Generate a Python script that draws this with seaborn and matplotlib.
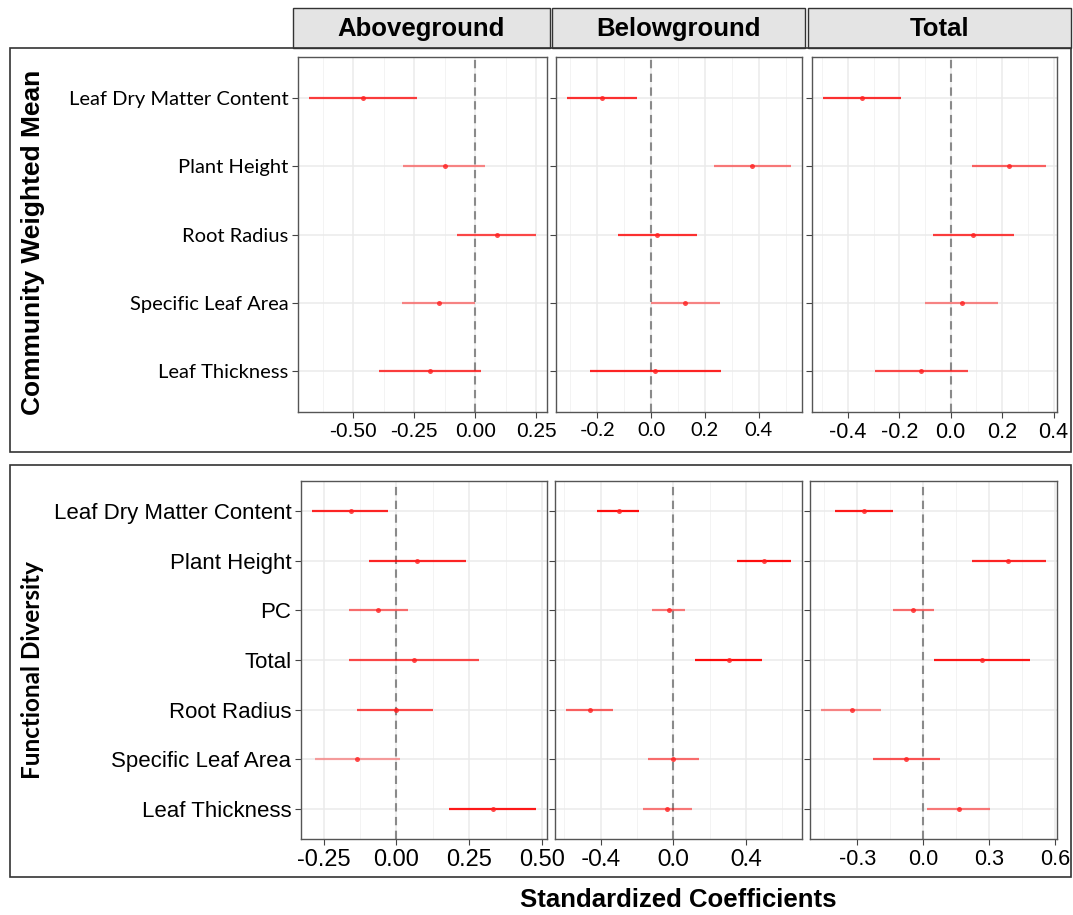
import matplotlib
matplotlib.use("Agg")
import numpy as np
import pandas as pd
import seaborn as sns
import matplotlib.pyplot as plt
from matplotlib.patches import Rectangle
from matplotlib import font_manager

sns.set_theme(style="white")

# ---------------------------------------------------------------- data
responses = ["Aboveground", "Belowground", "Total"]

cwm_traits = ["Leaf Dry Matter Content", "Plant Height", "Root Radius",
              "Specific Leaf Area", "Leaf Thickness"]
fd_traits = ["Leaf Dry Matter Content", "Plant Height", "PC", "Total",
             "Root Radius", "Specific Leaf Area", "Leaf Thickness"]

# Community weighted mean models
cwm_above_est = [-0.46, -0.125, 0.088, -0.149, -0.186]
cwm_above_lo = [-0.68, -0.296, -0.074, -0.300, -0.395]
cwm_above_hi = [-0.24, 0.041, 0.248, -0.001, 0.022]
cwm_above_w = [0.75, 0.45, 0.70, 0.45, 0.75]

cwm_below_est = [-0.183, 0.375, 0.023, 0.126, 0.014]
cwm_below_lo = [-0.312, 0.233, -0.122, 0.000, -0.227]
cwm_below_hi = [-0.051, 0.519, 0.169, 0.256, 0.258]
cwm_below_w = [0.80, 0.50, 0.80, 0.45, 0.85]

cwm_total_est = [-0.345, 0.226, 0.087, 0.044, -0.114]
cwm_total_lo = [-0.496, 0.083, -0.067, -0.098, -0.295]
cwm_total_hi = [-0.192, 0.370, 0.247, 0.184, 0.067]
cwm_total_w = [0.80, 0.60, 0.75, 0.45, 0.70]

# Functional diversity models
fd_above_est = [-0.157, 0.072, -0.063, 0.059, -0.003, -0.136, 0.330]
fd_above_lo = [-0.289, -0.094, -0.163, -0.163, -0.134, -0.281, 0.180]
fd_above_hi = [-0.029, 0.240, 0.038, 0.282, 0.124, 0.011, 0.478]
fd_above_w = [0.85, 0.85, 0.55, 0.70, 0.70, 0.35, 0.90]

fd_below_est = [-0.300, 0.500, -0.024, 0.304, -0.457, 0.000, -0.035]
fd_below_lo = [-0.421, 0.348, -0.115, 0.118, -0.589, -0.140, -0.166]
fd_below_hi = [-0.188, 0.646, 0.066, 0.488, -0.332, 0.140, 0.102]
fd_below_w = [0.95, 0.95, 0.50, 0.95, 0.60, 0.55, 0.50]

fd_total_est = [-0.271, 0.388, -0.045, 0.267, -0.326, -0.079, 0.161]
fd_total_lo = [-0.401, 0.223, -0.139, 0.047, -0.464, -0.230, 0.018]
fd_total_hi = [-0.139, 0.558, 0.047, 0.488, -0.192, 0.076, 0.306]
fd_total_w = [0.90, 0.85, 0.55, 0.90, 0.45, 0.65, 0.50]

# axis breaks per facet
cwm_ticks = [[-0.50, -0.25, 0.00, 0.25], [-0.2, 0.0, 0.2, 0.4], [-0.4, -0.2, 0.0, 0.2, 0.4]]
cwm_ticklabels = [["-0.50", "-0.25", "0.00", "0.25"], ["-0.2", "0.0", "0.2", "0.4"],
                  ["-0.4", "-0.2", "0.0", "0.2", "0.4"]]
fd_ticks = [[-0.25, 0.00, 0.25, 0.50], [-0.4, 0.0, 0.4], [-0.3, 0.0, 0.3, 0.6]]
fd_ticklabels = [["-0.25", "0.00", "0.25", "0.50"], ["-0.4", "0.0", "0.4"],
                 ["-0.3", "0.0", "0.3", "0.6"]]


def build_frame(traits, blocks):
    rows = []
    for resp, (est, lo, hi, w) in zip(responses, blocks):
        for i, t in enumerate(traits):
            rows.append(dict(response=resp, trait=t, est=est[i], lo=lo[i], hi=hi[i], w=w[i]))
    df = pd.DataFrame(rows)
    df["pos"] = df["trait"].map({t: i for i, t in enumerate(traits)})
    return df


cwm = build_frame(cwm_traits, [
    (cwm_above_est, cwm_above_lo, cwm_above_hi, cwm_above_w),
    (cwm_below_est, cwm_below_lo, cwm_below_hi, cwm_below_w),
    (cwm_total_est, cwm_total_lo, cwm_total_hi, cwm_total_w),
])
fd = build_frame(fd_traits, [
    (fd_above_est, fd_above_lo, fd_above_hi, fd_above_w),
    (fd_below_est, fd_below_lo, fd_below_hi, fd_below_w),
    (fd_total_est, fd_total_lo, fd_total_hi, fd_total_w),
])

# ---------------------------------------------------------------- layout
W, H = 1073, 915
fig = plt.figure(figsize=(W / 100, H / 100), dpi=100)
fig.patch.set_facecolor("white")


def rect(x0, y0, x1, y1):
    return [x0 / W, 1 - y1 / H, (x1 - x0) / W, (y1 - y0) / H]


def fxy(x, y):
    return x / W, 1 - y / H


names = {f.name for f in font_manager.fontManager.ttflist}
ARIAL = "Liberation Sans"
CALI = "Lato" if "Lato" in names else "DejaVu Sans"

top_boxes = [(298, 57, 547, 412), (556, 57, 802, 412), (812, 57, 1057, 412)]
bot_boxes = [(301, 481, 547, 839), (555, 481, 802, 839), (810, 481, 1057, 839)]
top_tickfont = [(ARIAL, 15), (CALI, 14.5), (ARIAL, 15.5)]
bot_tickfont = [(ARIAL, 17), (CALI, 16.5), (ARIAL, 15.5)]


def draw_panel(ax, sub, traits, ticks, ticklabels, tickfont, show_y, yfont):
    n = len(traits)
    cols = [(1.0, 0.0, 0.0, a) for a in sub["w"]]
    ax.hlines(y=sub["pos"], xmin=sub["lo"], xmax=sub["hi"], colors=cols, lw=1.6, zorder=3)
    sns.scatterplot(data=sub, x="est", y="pos", color="#ff2020", s=13, linewidth=0,
                    alpha=0.8, ax=ax, legend=False, zorder=4)
    ax.axvline(0, color="#8a8a8a", ls=(0, (4, 2.6)), lw=1.5, zorder=2)

    lo = min(sub["lo"].min(), 0.0)
    hi = max(sub["hi"].max(), 0.0)
    pad = 0.05 * (hi - lo)
    xmin, xmax = lo - pad, hi + pad

    step = ticks[1] - ticks[0]
    minors = np.arange(ticks[0] - step / 2, ticks[-1] + step, step)
    minors = minors[(minors > xmin) & (minors < xmax)]
    ax.set_xticks(ticks)
    ax.set_xticklabels(ticklabels, fontfamily=tickfont[0], fontsize=tickfont[1], color="black")
    ax.set_xticks(minors, minor=True)
    ax.set_yticks(range(n))
    if show_y:
        ax.set_yticklabels(traits, fontfamily=yfont[0], fontsize=yfont[1], color="black")
    else:
        ax.set_yticklabels([])
    # ggplot-style expansion: 5% on the continuous axis, 0.6 units on the discrete one
    ax.set_xlim(xmin, xmax)
    ax.set_ylim(n - 1 + 0.6, -0.6)

    ax.grid(True, which="major", color="#ebebeb", lw=1.1, zorder=0)
    ax.grid(True, which="minor", axis="x", color="#f3f3f3", lw=0.7, zorder=0)
    ax.set_axisbelow(True)
    ax.tick_params(axis="both", which="major", length=4, width=0.8, color="#444444",
                   pad=3, bottom=True, left=True)
    ax.tick_params(axis="both", which="minor", length=0)
    for s in ax.spines.values():
        s.set_color("#555555")
        s.set_linewidth(1.0)
    ax.set_xlabel("")
    ax.set_ylabel("")
    ax.set_facecolor("white")


for k, resp in enumerate(responses):
    ax = fig.add_axes(rect(*top_boxes[k]))
    draw_panel(ax, cwm[cwm["response"] == resp], cwm_traits, cwm_ticks[k], cwm_ticklabels[k],
               top_tickfont[k], k == 0, (CALI, 14.5))
    ax = fig.add_axes(rect(*bot_boxes[k]))
    draw_panel(ax, fd[fd["response"] == resp], fd_traits, fd_ticks[k], fd_ticklabels[k],
               bot_tickfont[k], k == 0, (ARIAL, 16))

# facet strips
strips = [(293, 8, 550, 48), (552, 8, 805, 48), (808, 8, 1071, 48)]
for (x0, y0, x1, y1), lab in zip(strips, responses):
    fig.patches.append(Rectangle(fxy(x0, y1), (x1 - x0) / W, (y1 - y0) / H,
                                 transform=fig.transFigure, facecolor="#e4e4e4",
                                 edgecolor="#333333", lw=1.0))
    fig.text(*fxy((x0 + x1) / 2, (y0 + y1) / 2 + 1), lab, ha="center", va="center",
             fontfamily=ARIAL, fontweight="bold", fontsize=18.5, color="black")

# outer frames around the two panel rows
for (x0, y0, x1, y1) in [(10, 48, 1071, 452), (10, 465, 1071, 877)]:
    fig.patches.append(Rectangle(fxy(x0, y1), (x1 - x0) / W, (y1 - y0) / H,
                                 transform=fig.transFigure, facecolor="none",
                                 edgecolor="#333333", lw=1.2))

fig.text(*fxy(33, 242), "Community Weighted Mean", rotation=90, ha="center", va="center",
         fontfamily=ARIAL, fontweight="bold", fontsize=19, color="black")
fig.text(*fxy(33, 670), "Functional Diversity", rotation=90, ha="center", va="center",
         fontfamily=CALI, fontweight="bold", fontsize=17.5, color="black")

if "Liberation Sans Narrow" in names:
    xfam, xsize = "Liberation Sans Narrow", 21
else:
    xfam, xsize = ARIAL, 18.5
fig.text(*fxy(678, 900), "Standardized Coefficients", ha="center", va="center",
         fontfamily=xfam, fontweight="bold", fontsize=xsize, color="black")

fig.savefig("out.png", dpi=100, facecolor="white")
